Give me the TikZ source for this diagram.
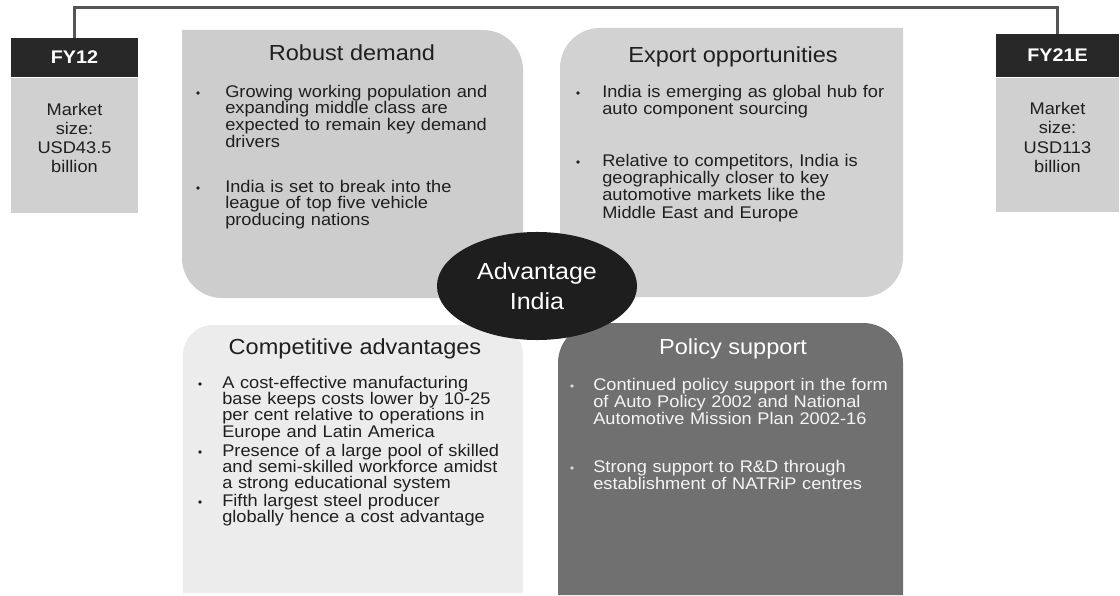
\documentclass[tikz,border=0pt]{standalone}
\usepackage{fontspec}
\setmainfont{Liberation Sans}[FakeStretch=1.08]
\usepackage{tikz}
\usetikzlibrary{positioning,shapes.geometric}

\definecolor{ink}{HTML}{1F1F1F}
\definecolor{darkhead}{HTML}{282828}
\definecolor{fybody}{HTML}{D0D0D0}
\definecolor{demand}{HTML}{CDCDCD}
\definecolor{export}{HTML}{D2D2D2}
\definecolor{compete}{HTML}{ECECEC}
\definecolor{policy}{HTML}{707070}
\definecolor{hubfill}{HTML}{1E1E1E}
\definecolor{linkgray}{HTML}{555555}

\tikzset{
  fyhead/.style={fill=darkhead,text=white,inner sep=0pt,
    font=\bfseries\fontsize{13}{15}\selectfont},
  fybox/.style={fill=fybody,inner sep=0pt},
  fytext/.style={text=ink,inner sep=0pt,align=center,
    font=\fontsize{12}{13.7}\selectfont},
  boxtitle/.style={anchor=base,inner sep=0pt,text=ink,
    font=\fontsize{15.5}{18}\selectfont},
  pts/.style={anchor=base west,inner sep=0pt,text width=8cm,align=left,
    text=ink,font=\fontsize{12}{11.9}\selectfont},
  hub/.style={ellipse,fill=hubfill,text=white,align=center,inner sep=0pt,
    minimum width=5cm,minimum height=2.7cm,
    font=\fontsize{16.5}{21}\selectfont},
  link/.style={draw=linkgray,line width=2pt}
}

\begin{document}
\begin{tikzpicture}[x=0.025cm,y=0.025cm]
\useasboundingbox (0,0) rectangle (1120,595);

% quadrant tiles
\fill[demand] (182,565) -- (483,565) arc[start angle=90,end angle=0,radius=40]
  -- (523,297) -- (222,297) arc[start angle=270,end angle=180,radius=40] -- cycle;
\fill[export] (560,298) -- (560,527) arc[start angle=180,end angle=90,radius=40]
  -- (903,567) -- (903,338) arc[start angle=0,end angle=-90,radius=40] -- cycle;
\fill[compete] (183,2) -- (183,240) arc[start angle=180,end angle=90,radius=30]
  -- (493,270) arc[start angle=90,end angle=0,radius=30] -- (523,2) -- cycle;
\fill[policy] (558,0) -- (558,232) arc[start angle=180,end angle=90,radius=40]
  -- (863,272) arc[start angle=90,end angle=0,radius=40] -- (903,0) -- cycle;

% market size tags
\node[fyhead,minimum width=3.175cm,minimum height=0.975cm] (fy12) at (74.5,537.5) {FY12};
\node[fybox,minimum width=3.175cm,minimum height=3.375cm,below=0pt of fy12] (fy12b) {};
\node[fytext] (fy12t) at ([yshift=5pt]fy12b.center) {Market\\size:\\USD43.5\\billion};
\node[fyhead,minimum width=3.075cm,minimum height=1.075cm] (fy21) at (1057.5,539.5) {FY21E};
\node[fybox,minimum width=3.075cm,minimum height=3.35cm,below=0pt of fy21] (fy21b) {};
\node[fytext] (fy21t) at ([yshift=5pt]fy21b.center) {Market\\size:\\USD113\\billion};
\draw[link] (fy12.north) -- ++(0,30) -| (fy21.north);

% robust demand
\node[boxtitle] (tdemand) at (352,534) {Robust demand};
\fill[ink] (198,502) circle (1.8);
\node[pts] (d1) at (225,498) {Growing working population and\\expanding middle class are\\expected to remain key demand\\drivers};
\fill[ink] (198,407) circle (1.8);
\node[pts] (d2) at (225,403) {India is set to break into the\\league of top five vehicle\\producing nations};

% export opportunities
\node[boxtitle] (texport) at (733,532) {Export opportunities};
\fill[ink] (578,502) circle (1.8);
\node[pts,font=\fontsize{12}{12.6}\selectfont] (e1) at (602,498) {India is emerging as global hub for\\auto component sourcing};
\fill[ink] (578,433) circle (1.8);
\node[pts,font=\fontsize{12}{12.4}\selectfont] (e2) at (602,429) {Relative to competitors, India is\\geographically closer to key\\automotive markets like the\\Middle East and Europe};

% competitive advantages
\node[boxtitle] (tcompete) at (355,241) {Competitive advantages};
\fill[ink] (200,211) circle (1.8);
\node[pts,font=\fontsize{12}{11.7}\selectfont] (c1) at (222,207) {A cost-effective manufacturing\\base keeps costs lower by 10-25\\per cent relative to operations in\\Europe and Latin America};
\fill[ink] (200,143) circle (1.8);
\node[pts,font=\fontsize{12}{11.7}\selectfont] (c2) at (222,139) {Presence of a large pool of skilled\\and semi-skilled workforce amidst\\a strong educational system};
\fill[ink] (200,93) circle (1.8);
\node[pts,font=\fontsize{12}{11.7}\selectfont] (c3) at (222,89) {Fifth largest steel producer\\globally hence a cost advantage};

% policy support
\node[boxtitle,text=white] (tpolicy) at (733,241) {Policy support};
\fill[white!85!black] (572,209) circle (1.8);
\node[pts,text=white!96!black,font=\fontsize{12}{12.4}\selectfont] (p1) at (593,205) {Continued policy support in the form\\of Auto Policy 2002 and National\\Automotive Mission Plan 2002-16};
\fill[white!85!black] (572,127) circle (1.8);
\node[pts,text=white!96!black,font=\fontsize{12}{12.4}\selectfont] (p2) at (593,123) {Strong support to R\&D through\\establishment of NATRiP centres};

% centre
\node[hub] (hub) at (537,309) {Advantage\\India};
\end{tikzpicture}
\end{document}
